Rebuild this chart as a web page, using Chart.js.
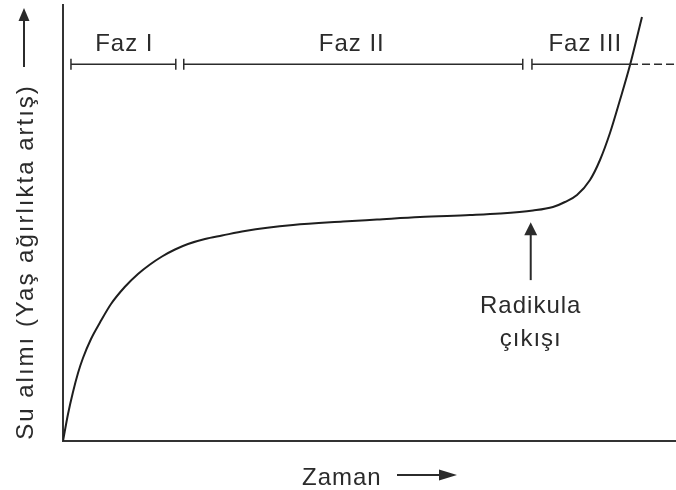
<!DOCTYPE html>
<html lang="tr">
<head>
    <meta charset="UTF-8">
    <title>Su alımı</title>
    <script src="https://cdn.jsdelivr.net/npm/chart.js"></script>
    <style>
        body {
            margin: 0;
            padding: 0;
            background: #ffffff;
        }
        #wrap {
            width: 676px;
            height: 490px;
        }
    </style>
</head>
<body>
    <div id="wrap">
        <canvas id="imbibition" width="676" height="490"></canvas>
    </div>

    <script>
        // time (0-100) and water uptake (0-100)
        const zaman = [0, 0.82, 1.63, 2.45, 3.26, 4.57, 5.99, 7.83, 10.07, 12.23, 14.19, 16.15, 18.27, 20.39, 23.16, 25.94, 29.69, 37.52, 45.68, 51.22, 58.24, 66.39, 71.29, 76.67, 79.93, 81.89, 83.85, 85.97, 87.60, 89.23, 90.86, 92.50, 94.45];
        const suAlimi = [0, 6.19, 11.24, 15.60, 19.04, 23.39, 27.06, 31.42, 35.32, 38.30, 40.48, 42.32, 43.92, 45.18, 46.33, 47.13, 48.17, 49.54, 50.34, 50.80, 51.38, 51.83, 52.18, 52.87, 53.67, 54.82, 56.42, 59.86, 64.45, 70.64, 78.21, 86.24, 97.25];

        // phases along the top bar
        const fazlar = ['Faz I', 'Faz II', 'Faz III'];
        const fazBaslangic = [1.3, 19.7, 76.5];
        const fazBitis = [18.4, 75.0, 92.5];
        const fazEtiketX = [10.0, 47.1, 85.2];
        const fazCizgiY = 86.4;
        const fazEtiketY = 89.4;

        // radicle emergence marker
        const radikulaX = 76.3;
        const radikulaOkUst = 50.2;
        const radikulaOkAlt = 36.9;
        const radikulaYazi = ['Radikula', 'çıkışı'];
        const radikulaYaziY = [29.4, 21.8];

        const yEkseniBaslik = 'Su alımı (Yaş ağırlıkta artış)';
        const xEkseniBaslik = 'Zaman';

        const points = zaman.map((x, i) => ({ x: x, y: suAlimi[i] }));
        const ink = '#2b2b2b';
        const font = '24px "Liberation Sans", Arial, sans-serif';

        function arrowHead(ctx, tipX, tipY, dir, len, half) {
            // dir: 'up' or 'right'
            ctx.beginPath();
            if (dir === 'up') {
                ctx.moveTo(tipX, tipY);
                ctx.lineTo(tipX - half, tipY + len);
                ctx.lineTo(tipX + half, tipY + len);
            } else {
                ctx.moveTo(tipX, tipY);
                ctx.lineTo(tipX - len, tipY - half);
                ctx.lineTo(tipX - len, tipY + half);
            }
            ctx.closePath();
            ctx.fill();
        }

        const annotations = {
            id: 'annotations',
            afterDraw(chart) {
                const ctx = chart.ctx;
                const xs = chart.scales.x;
                const ys = chart.scales.y;
                const area = chart.chartArea;
                ctx.save();
                ctx.strokeStyle = ink;
                ctx.fillStyle = ink;
                ctx.font = font;
                ctx.textAlign = 'center';
                ctx.textBaseline = 'alphabetic';

                // phase bars
                const py = ys.getPixelForValue(fazCizgiY);
                ctx.lineWidth = 1.5;
                fazlar.forEach((label, i) => {
                    const x1 = xs.getPixelForValue(fazBaslangic[i]);
                    const x2 = xs.getPixelForValue(fazBitis[i]);
                    ctx.beginPath();
                    ctx.moveTo(x1, py);
                    ctx.lineTo(x2, py);
                    ctx.moveTo(x1, py - 5.5);
                    ctx.lineTo(x1, py + 5.5);
                    if (i < fazlar.length - 1) {
                        ctx.moveTo(x2, py - 5.5);
                        ctx.lineTo(x2, py + 5.5);
                    }
                    ctx.stroke();
                    ctx.letterSpacing = '1px';
                    ctx.fillText(label, xs.getPixelForValue(fazEtiketX[i]), ys.getPixelForValue(fazEtiketY));
                });
                // dashed continuation
                ctx.setLineDash([8, 4]);
                ctx.beginPath();
                ctx.moveTo(xs.getPixelForValue(fazBitis[2]), py);
                ctx.lineTo(area.right, py);
                ctx.stroke();
                ctx.setLineDash([]);

                // radicle arrow
                const rx = xs.getPixelForValue(radikulaX);
                const rTip = ys.getPixelForValue(radikulaOkUst);
                ctx.lineWidth = 2;
                ctx.beginPath();
                ctx.moveTo(rx, ys.getPixelForValue(radikulaOkAlt));
                ctx.lineTo(rx, rTip + 11);
                ctx.stroke();
                arrowHead(ctx, rx, rTip, 'up', 13, 6.5);
                radikulaYazi.forEach((t, i) => {
                    ctx.fillText(t, rx, ys.getPixelForValue(radikulaYaziY[i]));
                });

                // x axis title with arrow
                ctx.letterSpacing = '1px';
                ctx.textAlign = 'left';
                ctx.fillText(xEkseniBaslik, 302, 485);
                ctx.lineWidth = 2;
                ctx.beginPath();
                ctx.moveTo(397, 475);
                ctx.lineTo(440, 475);
                ctx.stroke();
                arrowHead(ctx, 457, 475, 'right', 18, 5.5);

                // y axis title with arrow
                ctx.save();
                ctx.translate(33, 262);
                ctx.rotate(-Math.PI / 2);
                ctx.textAlign = 'center';
                ctx.letterSpacing = '2px';
                ctx.fillText(yEkseniBaslik, 0, 0);
                ctx.restore();
                ctx.beginPath();
                ctx.moveTo(24, 67);
                ctx.lineTo(24, 18);
                ctx.stroke();
                arrowHead(ctx, 24, 8, 'up', 13, 5.5);

                ctx.restore();
            }
        };

        const ctx = document.getElementById('imbibition').getContext('2d');
        new Chart(ctx, {
            type: 'line',
            data: {
                datasets: [{
                    label: 'Su alımı',
                    data: points,
                    borderColor: '#1e1e1e',
                    borderWidth: 2,
                    pointRadius: 0,
                    fill: false,
                    cubicInterpolationMode: 'monotone'
                }]
            },
            options: {
                responsive: false,
                animation: false,
                layout: {
                    padding: { left: 63, top: 5, right: 0, bottom: 49 }
                },
                plugins: {
                    legend: { display: false },
                    tooltip: { enabled: false }
                },
                scales: {
                    x: {
                        type: 'linear',
                        min: 0,
                        max: 100,
                        grid: { display: false, drawTicks: false },
                        ticks: { display: false },
                        border: { display: true, color: '#333', width: 2 }
                    },
                    y: {
                        min: 0,
                        max: 100,
                        grid: { display: false, drawTicks: false },
                        ticks: { display: false },
                        border: { display: true, color: '#333', width: 2 }
                    }
                }
            },
            plugins: [annotations]
        });
    </script>
</body>
</html>
